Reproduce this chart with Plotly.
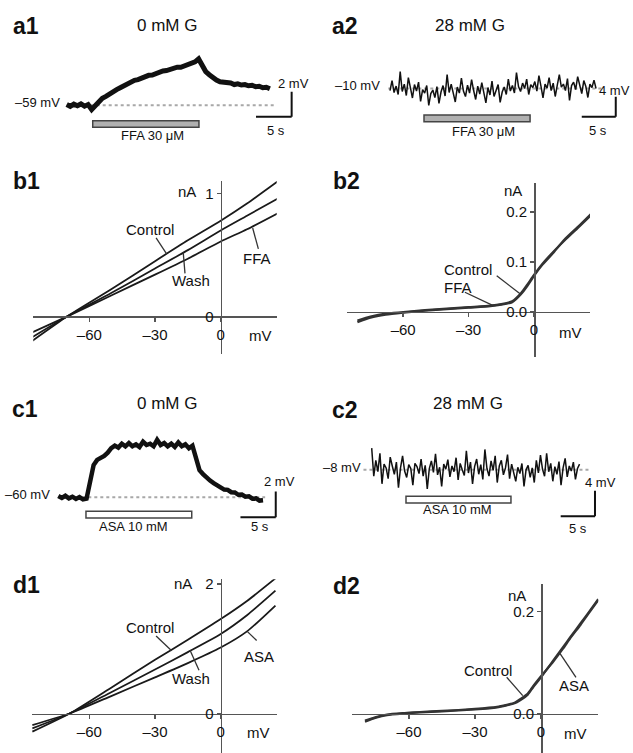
import plotly.graph_objects as go

W, H = 633, 753
FONT = "Liberation Sans, Arial, Helvetica, sans-serif"
AX = "#555555"

# ---------------- data ----------------
# Membrane potential traces: mV relative to the resting level, fixed sampling interval (s)
a1_rest = -59
a1_dt = 0.5
a1_dv = [0.05, -0.1, 0.08, -0.05, 0.1, -0.08, 0.05, -0.35, -0.05, 0.3,
         0.55, 0.7, 0.92, 1.1, 1.25, 1.4, 1.55, 1.7, 1.88, 2.0,
         2.05, 2.2, 2.25, 2.4, 2.42, 2.55, 2.6, 2.75, 2.78, 2.9,
         2.95, 3.05, 3.05, 3.18, 3.25, 3.38, 3.48, 3.72, 3.25, 2.7,
         2.45, 2.2, 2.02, 1.88, 1.85, 1.72, 1.78, 1.66, 1.72, 1.62,
         1.66, 1.56, 1.6, 1.48, 1.52, 1.4, 1.44, 1.32]
a1_drug = [3.65, 18.55]

a2_rest = -10
a2_dt = 0.3
a2_dv = [-0.4, 1.6, -0.8, 0.5, -1.2, 3.4, -0.6, 0.9, -1.4, 2.2,
         0.2, -1.9, 0.8, -0.5, 1.3, -2.6, -0.2, -0.9, 0.6, -3.4,
         -1.0, -0.3, -1.8, 0.4, -3.0, -0.7, 0.6, -1.5, 2.8, -0.8,
         0.9, -1.2, -2.7, 0.3, -0.9, 2.1, -0.5, -1.6, 0.7, -0.9,
         1.8, -0.4, -2.2, 0.5, -1.1, 1.2, -0.6, -2.9, 0.2, -1.3,
         1.5, -1.6, -0.4, 0.8, -2.8, -0.7, 0.3, -1.2, 1.9, -0.5,
         0.6, -0.9, 3.2, 0.4, -0.6, 1.1, 0.0, 1.9, -1.2, 0.8,
         0.2, 1.4, -0.5, 2.6, 0.5, -1.9, 0.9, 0.1, 2.2, -0.4,
         1.1, -1.6, 0.7, 2.8, 0.3, 0.9, -0.4, 2.0, -2.4, 0.6,
         1.3, -0.2, 2.4, 0.5, -1.0, 1.6, 0.4, -1.8, 0.9, 0.2,
         1.7, 0.0]
a2_drug = [5.0, 20.6]

c1_rest = -60
c1_dt = 0.5
c1_dv = [0.1, -0.05, 0.12, -0.08, 0.05, -0.12, 0.02, -0.15, -0.1, 1.3,
         2.5, 2.9, 3.05, 3.2, 3.45, 3.8, 4.0, 3.85, 4.15, 3.95,
         4.2, 3.95, 4.1, 3.9, 4.3, 4.05, 4.15, 3.95, 4.45, 4.05,
         4.2, 3.95, 4.15, 3.9, 4.25, 3.95, 4.1, 3.8, 4.0, 3.0,
         2.1, 1.8, 1.5, 1.3, 1.1, 0.95, 0.8, 0.6, 0.58, 0.4,
         0.38, 0.2, 0.22, 0.05, 0.08, -0.1, -0.08, -0.25, -0.22]
c1_drug = [3.92, 18.9]

c2_rest = -8
c2_dt = 0.3
c2_dv = [3.4, -1.0, 1.5, -0.3, 2.6, -2.2, 0.9, 0.3, -1.4, 2.0,
         0.6, -0.7, 1.2, -2.8, 0.3, 2.2, -0.2, -1.2, 0.8, 0.2,
         -2.4, 1.0, 0.5, -0.6, 1.7, -1.0, 0.7, -3.0, 0.2, 1.4,
         -0.4, 2.5, -0.8, 0.4, -2.6, 0.9, 0.1, 1.6, -1.1, 0.6,
         -0.3, 1.9, -1.6, 1.0, 0.0, -0.9, 3.0, -0.5, 1.2, -2.2,
         0.5, 1.7, -0.7, 0.8, -1.5, 3.2, 0.2, -1.0, 1.4, -0.1,
         2.2, -2.0, 0.6, 1.5, -0.8, 0.3, 2.4, -1.4, 0.9, -0.4,
         -1.8, 0.4, -0.6, 1.0, -2.6, 0.0, 0.7, -1.2, 0.3, -2.0,
         1.5, -0.5, 2.3, 0.1, -1.0, 2.6, -0.3, 1.0, -1.8, 0.5,
         -0.7, 1.3, -2.4, 0.3, 1.8, -1.1, 0.6, -0.2, 1.2, -1.5,
         0.2, 0.9]
c2_drug = [5.0, 20.3]

# Current-voltage relations (mV, nA)
b1_v = [-86, -70, -50, -30, -15, 0, 12, 26]
b1_control = [-0.20, 0.00, 0.22, 0.45, 0.62, 0.78, 0.92, 1.10]
b1_wash = [-0.17, 0.00, 0.19, 0.39, 0.54, 0.70, 0.82, 0.96]
b1_ffa = [-0.13, 0.00, 0.17, 0.34, 0.47, 0.61, 0.71, 0.84]

b2_v = [-81, -75, -68, -60, -50, -40, -30, -20, -15, -10, -6, -3, 0, 4, 9, 14, 20, 26]
b2_control = [-0.021, -0.012, -0.006, -0.002, 0.002, 0.005, 0.008, 0.011, 0.014, 0.019,
              0.035, 0.052, 0.072, 0.095, 0.119, 0.145, 0.170, 0.196]
b2_ffa = [-0.018, -0.010, -0.004, -0.001, 0.003, 0.006, 0.009, 0.012, 0.015, 0.021,
          0.037, 0.055, 0.074, 0.097, 0.121, 0.143, 0.168, 0.193]

d1_v = [-86, -69, -50, -30, -15, 0, 12, 25]
d1_control = [-0.28, 0.00, 0.40, 0.83, 1.14, 1.46, 1.74, 2.09]
d1_wash = [-0.23, 0.00, 0.33, 0.68, 0.95, 1.23, 1.52, 1.90]
d1_asa = [-0.18, 0.00, 0.27, 0.56, 0.78, 1.02, 1.27, 1.67]

d2_v = [-80, -75, -70, -62, -55, -45, -30, -20, -15.6, -12, -9.5, -6, -3.5, 0,
        5.6, 10, 13.2, 18, 22, 26]
d2_control = [-0.016, -0.008, -0.003, 0.000, 0.002, 0.004, 0.008, 0.012, 0.016, 0.020,
              0.026, 0.037, 0.052, 0.071, 0.104, 0.130, 0.149, 0.177, 0.200, 0.224]
d2_asa = [-0.014, -0.007, -0.002, 0.001, 0.003, 0.005, 0.009, 0.013, 0.017, 0.021,
          0.028, 0.039, 0.054, 0.073, 0.102, 0.127, 0.147, 0.174, 0.198, 0.222]

iv_xticks = [-60, -30, 0]
iv_xtext = ["\u201360", "\u201330", "0"]

# ---------------- layout helpers ----------------
def px(p):
    return p / W


def py(p):
    return 1 - p / H


def axes_for(L, R, T, B, x0px, sx, y0px, sy, yval0=0.0):
    xr = [(L - x0px) / sx, (R - x0px) / sx]
    yr = [yval0 + (y0px - B) / sy, yval0 + (y0px - T) / sy]
    xd = [px(L), px(R)]
    yd = [py(B), py(T)]
    return xd, xr, yd, yr


fig = go.Figure()
layout = dict(width=W, height=H, margin=dict(l=0, r=0, t=0, b=0),
              paper_bgcolor="white", plot_bgcolor="rgba(0,0,0,0)",
              showlegend=False, font=dict(family=FONT, color="#111"))
shapes = []
annotations = []


def ann(text, x, y, size=15, xanchor="center", bold=False):
    t = "<b>%s</b>" % text if bold else text
    annotations.append(dict(text=t, x=px(x), y=py(y), xref="paper", yref="paper",
                            xanchor=xanchor, yanchor="middle", showarrow=False,
                            font=dict(size=size, family=FONT, color="#111")))


def trace_panel(n, dv, dt, rest, drug, drug_fill, bar_rel, sb, sb_mv, geom, width,
                base_span):
    xd, xr, yd, yr = axes_for(*geom, yval0=rest)
    suf = "" if n == 1 else str(n)
    layout["xaxis" + suf] = dict(domain=xd, range=xr, visible=False, anchor="y" + suf)
    layout["yaxis" + suf] = dict(domain=yd, range=yr, visible=False, anchor="x" + suf)
    t = [i * dt for i in range(len(dv))]
    v = [rest + d for d in dv]
    fig.add_trace(go.Scatter(x=base_span, y=[rest, rest], mode="lines",
                             line=dict(color="#a8a8a8", width=2, dash="dot"),
                             xaxis="x" + suf, yaxis="y" + suf, hoverinfo="skip"))
    fig.add_trace(go.Scatter(x=t, y=v, mode="lines",
                             line=dict(color="#111", width=width),
                             xaxis="x" + suf, yaxis="y" + suf))
    shapes.append(dict(type="rect", xref="x" + suf, yref="y" + suf,
                       x0=drug[0], x1=drug[1], y0=rest + bar_rel[0], y1=rest + bar_rel[1],
                       fillcolor=drug_fill, line=dict(color="#444", width=1.5)))
    # scale bars: 5 s horizontal, sb_mv vertical
    t1, vb = sb
    shapes.append(dict(type="line", xref="x" + suf, yref="y" + suf,
                       x0=t1, x1=t1 + 5, y0=rest + vb, y1=rest + vb,
                       line=dict(color="#111", width=2)))
    shapes.append(dict(type="line", xref="x" + suf, yref="y" + suf,
                       x0=t1 + 5, x1=t1 + 5, y0=rest + vb, y1=rest + vb + sb_mv,
                       line=dict(color="#111", width=2)))


def iv_panel(n, vv, curves, geom, yticks, ytext, leaders, width, color):
    xd, xr, yd, yr = axes_for(*geom)
    suf = str(n)
    xpos = yd[0] + (0 - yr[0]) / (yr[1] - yr[0]) * (yd[1] - yd[0])
    ypos = xd[0] + (0 - xr[0]) / (xr[1] - xr[0]) * (xd[1] - xd[0])
    common = dict(showline=True, linecolor=AX, linewidth=1.6, ticks="outside",
                  ticklen=4, tickwidth=1.5, tickcolor=AX, showgrid=False,
                  zeroline=False, fixedrange=True,
                  tickfont=dict(size=15, family=FONT, color="#111"))
    layout["xaxis" + suf] = dict(domain=xd, range=xr, anchor="free", position=xpos,
                                 tickvals=iv_xticks, ticktext=iv_xtext, **common)
    layout["yaxis" + suf] = dict(domain=yd, range=yr, anchor="free", position=ypos,
                                 tickvals=yticks, ticktext=ytext, **common)
    for cur in curves:
        fig.add_trace(go.Scatter(x=vv, y=cur, mode="lines",
                                 line=dict(color=color, width=width, shape="spline",
                                           smoothing=0.6),
                                 xaxis="x" + suf, yaxis="y" + suf))
    for (xa, ya, xb, yb) in leaders:
        shapes.append(dict(type="line", xref="x" + suf, yref="y" + suf,
                           x0=xa, y0=ya, x1=xb, y1=yb,
                           line=dict(color="#333", width=1.3)))


# ---------------- panels ----------------
# geometry: L, R, T, B (px), x0px, px per unit x, y0px (level of rest / 0), px per unit y
trace_panel(1, a1_dv, a1_dt, a1_rest, a1_drug, "#b0b0b0", (-1.25, -1.78),
            (26.55, -0.93), 2, (0, 316, 35, 145, 66.7, 7.13, 101.7, 12.5), 5, [0, 29.2])
trace_panel(2, a2_dv, a2_dt, a2_rest, a2_drug, "#b0b0b0", (-5.34, -6.66),
            (28.2, -5.66), 4, (317, 633, 35, 145, 390, 6.8, 85, 5.0), 1.5, [-0.25, 31.1])
iv_panel(3, b1_v, [b1_control, b1_wash, b1_ffa],
         (33.3, 276.7, 178, 352, 220.7, 2.19, 314, 123.3), [0, 1], ["0", "1"],
         [(-29.5, 0.64, -24.7, 0.51), (-16.3, 0.35, -17.1, 0.52), (17.2, 0.55, 14.6, 0.72)],
         1.8, "#1a1a1a")
iv_panel(4, b2_v, [b2_control, b2_ffa],
         (346.7, 590, 180, 355, 534, 2.18, 309.3, 500), [0, 0.1, 0.2], ["0.0", "0.1", "0.2"],
         [(-17.1, 0.072, -6.4, 0.036), (-31.7, 0.039, -18.7, 0.012)],
         2.2, "#333333")
trace_panel(5, c1_dv, c1_dt, c1_rest, c1_drug, "white", (-1.08, -1.59),
            (25.8, -1.54), 2, (0, 316, 415, 535, 58.3, 7.06, 496, 13), 4.5, [0, 29.3])
trace_panel(6, c2_dv, c2_dt, c2_rest, c2_drug, "white", (-4.17, -5.22),
            (27.55, -7.3), 4, (317, 633, 415, 535, 371.7, 6.86, 468.3, 6.4), 1.5, [-1.2, 31.6])
iv_panel(7, d1_v, [d1_control, d1_wash, d1_asa],
         (31.7, 277.3, 578.3, 753, 220.7, 2.19, 713.3, 65), [0, 2], ["0", "2"],
         [(-29.5, 1.2, -22.4, 0.97), (-9.9, 0.67, -14.0, 0.98), (16.4, 1.13, 12.1, 1.27)],
         1.8, "#1a1a1a")
iv_panel(8, d2_v, [d2_control, d2_asa],
         (351.7, 598.3, 583.3, 753, 541, 2.2, 713.3, 513), [0, 0.2], ["0.0", "0.2"],
         [(-15.6, 0.071, -8.3, 0.035), (15.9, 0.071, 8.6, 0.118)],
         2.2, "#333333")

# ---------------- text ----------------
for lab, x, y in [("a1", 26, 22), ("a2", 345, 22), ("b1", 26.7, 178), ("b2", 346.7, 178),
                  ("c1", 25, 407), ("c2", 345, 408), ("d1", 26.7, 584), ("d2", 346, 585)]:
    ann(lab, x, y, size=23, bold=True)

ann("0 mM G", 167, 22, 17)
ann("28 mM G", 470, 22, 17)
ann("0 mM G", 167, 402, 17)
ann("28 mM G", 468, 402, 17)

ann("\u201359 mV", 62, 99, 13, xanchor="right")
ann("2 mV", 276, 80, 13, xanchor="left")
ann("5 s", 276, 127, 13)
ann("FFA 30 \u03bcM", 152, 132, 13)

ann("\u201310 mV", 382, 82, 13, xanchor="right")
ann("4 mV", 632, 87, 13, xanchor="right")
ann("5 s", 598, 127, 13)
ann("FFA 30 \u03bcM", 483, 128, 13)

ann("\u201360 mV", 52, 493, 13, xanchor="right")
ann("2 mV", 262, 480, 13, xanchor="left")
ann("5 s", 260, 525, 13)
ann("ASA 10 mM", 133, 525, 13)

ann("\u20138 mV", 363, 466, 13, xanchor="right")
ann("4 mV", 583, 481, 13, xanchor="left")
ann("5 s", 578, 527, 13)
ann("ASA 10 mM", 457, 508, 13)

# IV labels
ann("nA", 186.7, 188, 15)
ann("mV", 260, 333, 15)
ann("Control", 150, 227, 15)
ann("Wash", 190.7, 278, 15)
ann("FFA", 257, 256, 15)

ann("nA", 512.7, 187, 15)
ann("mV", 570, 330, 15)
ann("Control", 468.3, 267, 15)
ann("FFA", 458.3, 285, 15)

ann("nA", 182.7, 583, 15)
ann("mV", 258.3, 732, 15)
ann("Control", 150, 627, 15)
ann("Wash", 190.7, 678, 15)
ann("ASA", 259.3, 656, 15)

ann("nA", 516.7, 595, 15)
ann("mV", 575, 733, 15)
ann("Control", 488.3, 670, 15)
ann("ASA", 574, 685, 15)

layout["shapes"] = shapes
layout["annotations"] = annotations
fig.update_layout(**layout)
fig.write_html("out.html",
               config={"displayModeBar": False, "staticPlot": True},
               post_script="document.body.style.margin='0';"
                           "document.body.style.overflow='hidden';")
